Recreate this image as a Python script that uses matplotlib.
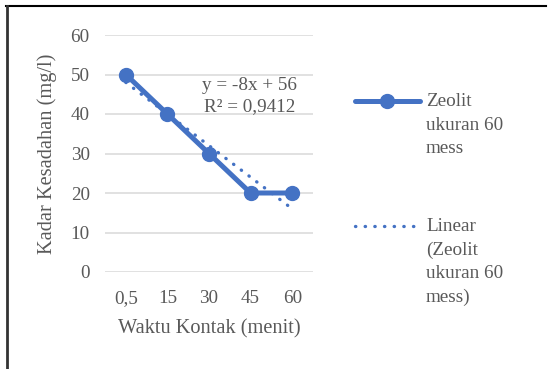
import matplotlib
matplotlib.use("Agg")
import matplotlib.pyplot as plt
from matplotlib.lines import Line2D
import numpy as np

categories = ["0,5", "15", "30", "45", "60"]
values = [50, 40, 30, 20, 20]
trend_slope = -8
trend_intercept = 56
series_label = "Zeolit\nukuran 60\nmess"
trend_label = "Linear\n(Zeolit\nukuran 60\nmess)"
equation_text = "y = -8x + 56\nR² = 0,9412"
y_ticks = [0, 10, 20, 30, 40, 50, 60]

plt.rcParams['font.family'] = ['Liberation Serif', 'DejaVu Serif']
text_color = "#595959"
blue = "#4472C4"
fs = 13.8
fs_title = 14.7

W, H = 549, 369
fig = plt.figure(figsize=(W / 100, H / 100), dpi=100)
fig.patch.set_facecolor("white")

def fy(p):
    return 1 - p / H

# plot area in pixels: x 105..313, y 35..272
ax = fig.add_axes([105 / W, 1 - 272 / H, (313 - 105) / W, (272 - 35) / H])
x = np.arange(1, len(categories) + 1)
ax.set_xlim(0.5, len(categories) + 0.5)
ax.set_ylim(0, 60)
ax.set_yticks(y_ticks)
ax.set_xticks(x)
ax.set_xticklabels(categories)
ax.grid(axis="y", color="#D9D9D9", linewidth=1.1)
ax.set_axisbelow(True)
for s in ax.spines.values():
    s.set_visible(False)
ax.tick_params(length=0, labelsize=fs, colors=text_color)
ax.tick_params(axis="y", pad=11)
ax.tick_params(axis="x", pad=13)

dotted = (0, (0.1, 2.8))
ax.plot(x, values, color=blue, linewidth=3.6, marker="o", markersize=10,
        solid_capstyle="round", zorder=3)
xt = np.array([1, len(categories)])
ax.plot(xt, trend_slope * xt + trend_intercept, color=blue, linewidth=2.4,
        linestyle=dotted, dash_capstyle="round", zorder=4)

fig.text(250 / W, fy(96), equation_text, fontsize=fs, color=text_color,
         ha="center", va="center", linespacing=1.35)

ax.set_xlabel("Waktu Kontak (menit)", fontsize=fs_title, color=text_color, labelpad=9)
ax.set_ylabel("Kadar Kesadahan (mg/l)", fontsize=fs_title, color=text_color, labelpad=10)

# legend drawn manually in figure coords
fig.add_artist(Line2D([355 / W, 420 / W], [fy(101), fy(101)], color=blue,
                      linewidth=3.6, solid_capstyle="round"))
fig.add_artist(Line2D([387 / W], [fy(101)], color=blue, marker="o",
                      markersize=10, linestyle="none"))
fig.text(426 / W, fy(101) + 8 / H, series_label, fontsize=fs, color=text_color,
         ha="left", va="top", linespacing=1.5)
fig.add_artist(Line2D([355 / W, 420 / W], [fy(226), fy(226)], color=blue,
                      linewidth=2.4, linestyle=dotted, dash_capstyle="round"))
fig.text(426 / W, fy(226) + 8 / H, trend_label, fontsize=fs, color=text_color,
         ha="left", va="top", linespacing=1.5)

# outer frame
fig.add_artist(Line2D([6 / W, 546 / W], [fy(6), fy(6)], color="black", linewidth=1.5))
fig.add_artist(Line2D([7 / W, 7 / W], [fy(6), 0], color="#333333", linewidth=2.0))

fig.savefig("out.png", dpi=100, facecolor="white")
